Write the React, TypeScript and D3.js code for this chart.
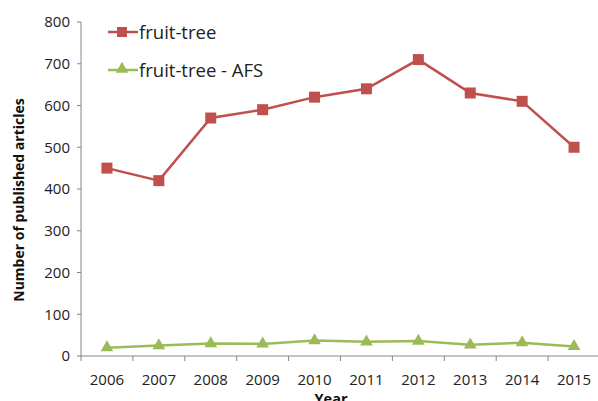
import React from "react";
import * as d3 from "d3";

const years = ["2006","2007","2008","2009","2010","2011","2012","2013","2014","2015"];
const fruitTree = [450, 420, 570, 590, 620, 640, 710, 630, 610, 500];
const fruitTreeAFS = [20, 25, 30, 29, 37, 34, 36, 27, 32, 23];
const yTicks = [0, 100, 200, 300, 400, 500, 600, 700, 800];

const W = 598, H = 401;
const left = 81, right = 600, top = 22, bottom = 356;
const RED = "#C0504D", GREEN = "#9BBB59", AXIS = "#868686";
const FONT = "'Open Sans', Lato, sans-serif";

export default function App() {
  const x = d3.scaleBand<string>().domain(years).range([left, right]);
  const y = d3.scaleLinear().domain([0, 800]).range([bottom, top]);
  const cx = (d: string) => (x(d) as number) + x.bandwidth() / 2;
  const line = d3.line<number>().x((_, i) => cx(years[i])).y(v => y(v));
  const tri = d3.symbol().type(d3.symbolTriangle).size(70)();

  return (
    <svg width={W} height={H} style={{ position: "absolute", left: 0, top: 0, background: "#fff" }} fontFamily={FONT}>
      {/* axes */}
      <line x1={left} x2={left} y1={top} y2={bottom} stroke={AXIS} strokeWidth={1} />
      <line x1={left} x2={right} y1={bottom} y2={bottom} stroke={AXIS} strokeWidth={1} />
      {yTicks.map(t => (
        <g key={t}>
          <line x1={left - 4} x2={left} y1={y(t)} y2={y(t)} stroke={AXIS} />
          <text x={left - 11} y={y(t)} dy="0.36em" textAnchor="end" fontSize={15} fill="#222">{t}</text>
        </g>
      ))}
      {years.map((yr) => (
        <g key={yr}>
          <line x1={x(yr) as number} x2={x(yr) as number} y1={bottom} y2={bottom + 5} stroke={AXIS} />
          <text x={cx(yr)} y={380} dy="0.36em" textAnchor="middle" fontSize={15} fill="#222">{yr}</text>
        </g>
      ))}
      <text x={331} y={404} textAnchor="middle" fontSize={14.5} fontWeight="bold" fill="#111">Year</text>
      <text transform={`translate(24,${200}) rotate(-90)`} textAnchor="middle" fontSize={14} fontWeight="bold" fill="#111">Number of published articles</text>

      {/* series */}
      <path d={line(fruitTree) || ""} fill="none" stroke={RED} strokeWidth={2.5} />
      {fruitTree.map((v, i) => (
        <rect key={i} x={cx(years[i]) - 5.5} y={y(v) - 5.5} width={11} height={11} fill={RED} />
      ))}
      <path d={line(fruitTreeAFS) || ""} fill="none" stroke={GREEN} strokeWidth={2.5} />
      {fruitTreeAFS.map((v, i) => (
        <path key={i} d={tri || ""} transform={`translate(${cx(years[i])},${y(v)})`} fill={GREEN} />
      ))}

      {/* legend */}
      <line x1={108} x2={138} y1={32} y2={32} stroke={RED} strokeWidth={2.5} />
      <rect x={117} y={27} width={10} height={10} fill={RED} />
      <text x={139} y={32} dy="0.36em" fontSize={18.5} fill="#222">fruit-tree</text>
      <line x1={108} x2={138} y1={70} y2={70} stroke={GREEN} strokeWidth={2.5} />
      <path d={tri || ""} transform="translate(122,69)" fill={GREEN} />
      <text x={139} y={70} dy="0.36em" fontSize={18.5} fill="#222">fruit-tree - AFS</text>
    </svg>
  );
}
